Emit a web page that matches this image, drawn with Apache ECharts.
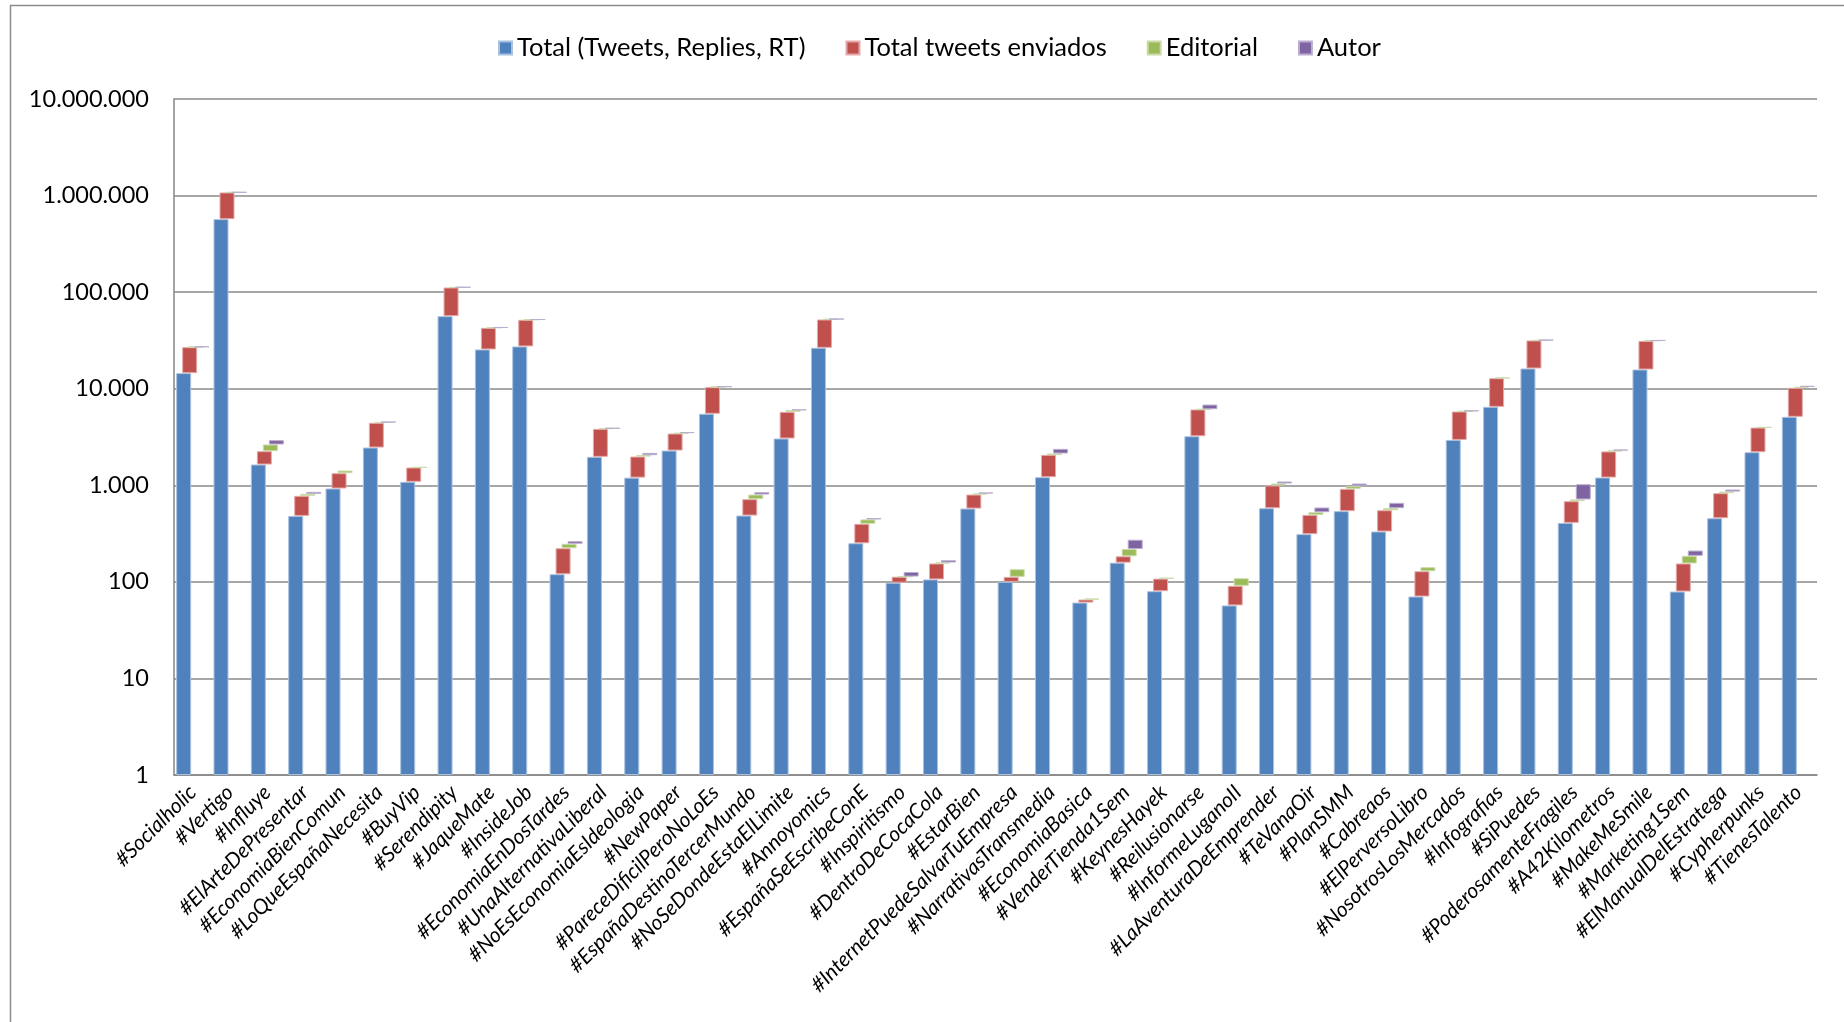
<!DOCTYPE html>
<html>
<head>
<meta charset="utf-8">
<script src="https://cdn.jsdelivr.net/npm/echarts@6/dist/echarts.min.js"></script>
<style>
html,body{margin:0;padding:0;background:#fff;}
#chart{width:1844px;height:1022px;}
</style>
</head>
<body>
<div id="chart"></div>
<script>
const categories = ['#Socialholic', '#Vertigo', '#Influye', '#ElArteDePresentar', '#EconomiaBienComun', '#LoQueEspañaNecesita', '#BuyVip', '#Serendipity', '#JaqueMate', '#InsideJob', '#EconomiaEnDosTardes', '#UnaAlternativaLiberal', '#NoEsEconomiaEsIdeologia', '#NewPaper', '#PareceDificilPeroNoLoEs', '#EspañaDestinoTercerMundo', '#NoSeDondeEstaElLimite', '#Annoyomics', '#EspañaSeEscribeConE', '#Inspiritismo', '#DentroDeCocaCola', '#EstarBien', '#InternetPuedeSalvarTuEmpresa', '#NarrativasTransmedia', '#EconomiaBasica', '#VenderTienda1Sem', '#KeynesHayek', '#Reilusionarse', '#InformeLuganoII', '#LaAventuraDeEmprender', '#TeVanaOir', '#PlanSMM', '#Cabreaos', '#ElPerversoLibro', '#NosotrosLosMercados', '#Infografias', '#SiPuedes', '#PoderosamenteFragiles', '#A42Kilometros', '#MakeMeSmile', '#Marketing1Sem', '#ElManualDelEstratega', '#Cypherpunks', '#TienesTalento'];

const totalTweets = [14500, 570000, 1640, 482, 926, 2460, 1086, 56400, 25500, 27400, 120, 1970, 1200, 2290, 5500, 486, 3050, 26500, 251, 98, 106, 574, 100, 1213, 61, 158, 80, 3220, 57, 579, 312, 540, 332, 70.5, 2950, 6490, 16200, 408, 1203, 15800, 79.4, 456, 2200, 5116];

const sentTweets = [12400, 507000, 615, 296, 408, 1976, 442, 55300, 17200, 24300, 103, 1870, 785, 1145, 4880, 232, 2710, 25600, 148, 15, 49, 228, 12.6, 852, 4.6, 26, 28, 2875, 34, 416, 182, 378, 220, 58.4, 2855, 6360, 15400, 276, 1037, 15500, 75.6, 372, 1760, 5094];

const editorial = [200, 3000, 390, 37, 87, 60, 10, 500, 250, 300, 25, 40, 64, 40, 100, 84, 240, 400, 44, 0.5, 3.5, 20, 22.6, 68, 1.5, 35, 2, 40, 18, 48, 32, 61, 27, 13, 60, 150, 150, 29, 50, 200, 31, 33, 40, 240];

const autor = [150, 2000, 290, 40, null, 40, null, 300, 200, 150, 16, 30, 117, 80, 60, 47, 100, 300, 14, 13, 9, 20, null, 251, null, 54, null, 720, null, 51, 63, 63, 79, null, 80, null, 250, 313, 54, 200, 25, 43, null, 260];

const yTicks = [1, 10, 100, 1000, 10000, 100000, 1000000, 10000000];

const seriesNames = ['Total (Tweets, Replies, RT)', 'Total tweets enviados', 'Editorial', 'Autor'];

// bases for the floating segments (built from the data arrays)
const baseSent = totalTweets.slice();
const baseEditorial = totalTweets.map((v, i) => v + sentTweets[i]);
const baseAutor = totalTweets.map((v, i) => v + sentTweets[i] + (editorial[i] || 0));

const chart = echarts.init(document.getElementById('chart'), null, {renderer: 'canvas'});

const FONT = 'Lato, "Open Sans", "Liberation Sans", sans-serif';
const BW = 15, GAP = '-60%';

function helper(id, data) {
  return {
    name: 'helper_' + id, type: 'bar', stack: id, data: data,
    barWidth: BW, barGap: GAP, silent: true,
    itemStyle: {color: 'rgba(0,0,0,0)', borderWidth: 0},
    emphasis: {disabled: true}
  };
}
function visible(name, id, data, color, border) {
  const s = {
    name: name, type: 'bar', data: data,
    barWidth: BW, barGap: GAP,
    itemStyle: {color: color, borderColor: border, borderWidth: 1}
  };
  if (id) s.stack = id;
  return s;
}

const option = {
  animation: false,
  backgroundColor: '#ffffff',
  legend: {
    data: seriesNames,
    top: 30,
    left: 493,
    icon: 'rect',
    itemWidth: 13,
    itemHeight: 13,
    itemGap: 40,
    textStyle: {fontFamily: FONT, fontSize: 25.5, color: '#000'}
  },
  grid: {left: 174, right: 27, top: 99, bottom: 247, containLabel: false, outerBoundsMode: 'none'},
  xAxis: {
    type: 'category',
    data: categories,
    axisLine: {show: true, lineStyle: {color: '#868686', width: 1.5}},
    axisTick: {show: false},
    axisLabel: {
      interval: 0, rotate: 45, margin: 14,
      fontFamily: FONT, fontStyle: 'italic', fontSize: 21, color: '#000'
    }
  },
  yAxis: {
    type: 'log',
    logBase: 10,
    min: yTicks[0],
    max: yTicks[yTicks.length - 1],
    splitNumber: 7,
    axisLine: {show: true, lineStyle: {color: '#868686', width: 1.5}},
    axisTick: {show: false},
    minorTick: {show: false},
    splitLine: {show: true, lineStyle: {color: '#8a8a8a', width: 1.5}},
    axisLabel: {
      margin: 25,
      fontFamily: FONT, fontSize: 23.5, color: '#000',
      formatter: function (v) {
        return Math.round(v).toString().replace(/\B(?=(\d{3})+(?!\d))/g, '.');
      }
    }
  },
  series: [
    visible(seriesNames[0], null, totalTweets, '#4F81BD', '#A9C0DE'),
    helper('r', baseSent),
    visible(seriesNames[1], 'r', sentTweets, '#C0504D', '#E4A9A7'),
    helper('g', baseEditorial),
    visible(seriesNames[2], 'g', editorial, '#9BBB59', '#CADBA8'),
    helper('p', baseAutor),
    visible(seriesNames[3], 'p', autor, '#8064A2', '#BBAED0')
  ],
  graphic: [{
    type: 'rect', silent: true, z: 100,
    shape: {x: 10.5, y: 5.5, width: 1900, height: 1100},
    style: {fill: 'none', stroke: '#8c8c8c', lineWidth: 1.5}
  }]
};
chart.setOption(option);
</script>
</body>
</html>
